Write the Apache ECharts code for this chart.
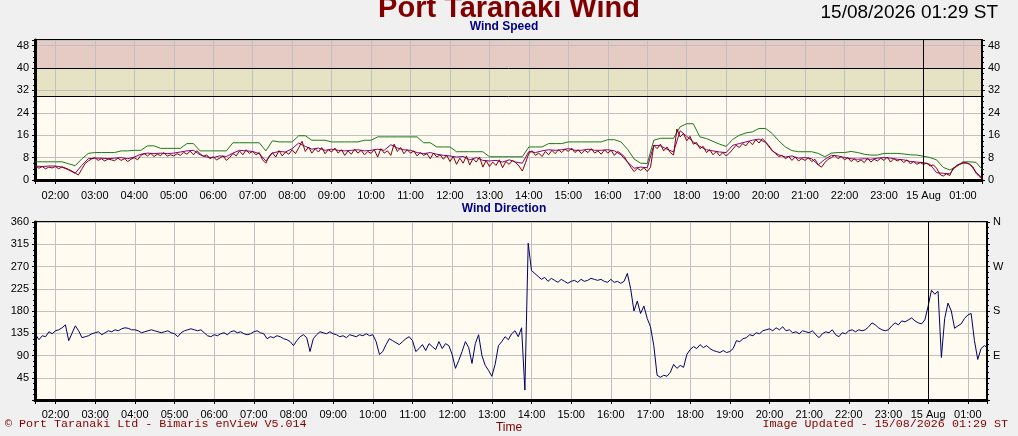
<!DOCTYPE html>
<html>
<head>
<meta charset="utf-8">
<script src="https://cdn.jsdelivr.net/npm/echarts@6/dist/echarts.min.js"></script>
<style>
  html, body { margin: 0; padding: 0; background: #f0f0f0; }
  #chart { width: 1018px; height: 436px; }
</style>
</head>
<body>
<div id="chart"></div>
<script>
// time range of the plot (local time)
var startTime = new Date(2026, 7, 14, 1, 29).getTime();
var endTime = new Date(2026, 7, 15, 1, 29).getTime();
var midnight = new Date(2026, 7, 15, 0, 0).getTime();
var firstSample = new Date(2026, 7, 14, 1, 30).getTime();

// wind speed, 5 minute samples from 01:30 (knots)
var speedMaroon = [
  5.0,4.2,4.8,4.0,4.6,4.3,
  4.8,4.0,4.7,4.3,3.8,3.2,2.5,1.8,3.8,5.8,6.8,7.5,
  8.0,7.0,7.6,6.8,7.5,7.2,6.9,7.8,7.0,7.6,6.6,7.4,
  8.0,7.2,8.8,9.4,8.6,9.5,8.4,9.2,8.7,9.8,8.5,9.0,
  8.6,9.4,8.8,9.9,9.2,10.3,9.0,10.5,9.4,8.4,9.0,7.6,
  8.3,7.2,7.8,8.6,7.0,8.0,9.5,8.6,10.4,9.0,10.8,9.5,
  10.2,9.0,9.8,7.2,6.0,8.5,9.8,8.2,10.5,8.6,10.0,9.2,
  10.8,9.4,11.5,13.8,10.2,11.8,9.6,11.2,10.0,11.6,9.4,10.8,
  10.0,11.4,9.6,10.8,8.8,10.4,9.2,11.0,9.6,10.6,9.0,10.2,
  9.5,10.8,8.2,11.2,9.6,10.4,8.8,12.8,10.2,11.6,9.4,10.8,
  9.6,10.4,8.6,9.8,8.8,9.4,7.6,9.6,8.2,9.0,7.4,8.8,
  6.6,8.4,5.6,7.8,6.0,8.6,5.4,7.6,6.4,8.2,4.6,7.0,
  4.8,6.4,5.2,7.2,4.4,6.6,5.6,7.0,6.2,5.0,3.2,6.2,
  9.6,10.4,8.8,9.6,8.4,10.2,9.0,10.6,9.4,10.8,9.8,11.0,
  10.2,11.4,9.8,10.8,9.4,10.6,9.8,11.2,9.6,10.4,9.2,10.8,
  9.6,10.6,8.8,10.2,9.4,8.4,6.4,4.6,3.0,4.2,3.4,4.4,
  3.0,4.6,12.4,11.2,12.8,10.4,11.8,9.8,8.9,18.2,15.4,16.6,
  14.0,15.6,12.8,13.4,11.2,12.0,9.8,10.8,9.0,10.2,8.6,9.8,
  8.6,9.6,11.0,12.4,11.6,13.0,12.2,13.8,12.6,14.4,13.2,14.8,
  13.6,12.2,10.6,9.4,8.4,8.8,7.6,8.4,7.0,8.2,6.8,7.6,
  7.0,8.0,6.6,7.4,5.4,4.6,6.2,7.4,8.0,8.8,7.6,8.4,
  7.2,8.0,6.6,7.6,6.4,7.2,6.2,7.8,6.4,7.4,6.8,7.8,
  7.0,8.2,6.4,7.6,6.8,7.4,6.2,7.2,5.8,6.6,5.6,6.2,
  5.6,6.0,5.0,5.4,4.2,2.0,1.4,2.2,1.6,4.2,5.0,5.6,
  6.0,6.2,5.6,4.8,2.4,1.2,0.4
];

// wind speed average, 10 minute samples from 01:30
var speedPurple = [
  5.0,4.8,5.0,
  5.0,4.6,3.6,2.4,5.2,7.6,
  7.8,7.8,7.6,7.8,8.0,7.6,
  8.2,9.2,9.6,9.4,9.6,9.4,
  9.6,10.0,10.4,10.6,9.0,8.2,
  8.0,8.6,8.4,9.6,10.6,10.4,
  10.2,9.4,6.8,9.6,10.2,10.0,
  11.2,13.2,12.0,11.0,11.4,10.6,
  11.0,10.6,10.4,10.6,10.8,10.4,
  10.6,11.0,10.6,12.6,11.4,10.8,
  10.6,9.8,9.4,9.8,9.2,8.8,
  8.6,8.2,8.4,7.2,8.0,7.0,
  6.8,7.0,6.4,7.2,6.4,6.0,
  10.2,9.8,10.4,10.8,10.6,10.8,
  11.2,10.6,10.6,11.0,10.6,10.6,
  10.8,10.4,9.0,6.4,4.2,4.6,
  4.4,12.4,12.2,11.0,10.0,17.6,
  15.6,13.6,12.0,10.8,10.4,10.0,
  9.8,12.4,13.0,13.6,14.2,14.6,
  13.4,10.4,9.0,8.2,8.6,7.8,
  8.0,7.6,5.4,7.4,8.8,8.6,
  8.0,7.6,7.4,7.6,7.4,7.8,
  8.0,7.8,7.4,7.2,6.6,6.4,
  6.2,5.6,2.6,2.4,2.2,5.2,
  6.2,5.8,2.8,0.6
];

// gust, 10 minute samples from 01:30
var gustGreen = [
  6.5,6.5,6.5,
  6.5,6.5,5.8,5.1,7.5,9.5,
  9.8,9.8,9.8,9.8,10.4,10.4,
  10.6,10.6,12.2,12.2,11.3,11.3,
  11.3,11.3,13.0,13.0,10.4,10.4,
  10.4,10.4,10.4,13.3,13.3,13.3,
  13.3,13.3,10.4,14.0,13.6,13.6,
  13.6,15.8,15.8,14.2,14.2,14.2,
  13.6,13.6,13.6,13.6,13.6,14.2,
  14.2,15.4,15.4,15.4,15.4,15.4,
  15.4,15.4,13.3,13.3,11.8,11.8,
  11.8,10.1,10.1,10.1,10.1,10.1,
  8.3,8.3,8.3,8.3,8.3,8.3,
  11.8,11.8,11.8,13.0,13.0,13.0,
  13.6,13.6,13.6,13.6,13.6,13.6,
  14.4,14.4,13.6,11.0,7.5,6.0,
  5.9,14.2,14.9,14.9,14.9,19.0,
  20.1,20.1,15.4,14.8,13.8,12.8,
  12.0,14.5,16.0,16.8,17.2,18.4,
  18.4,16.6,14.0,11.8,10.5,10.1,
  10.1,10.1,9.5,8.3,9.6,9.8,
  9.8,10.2,9.8,9.2,8.9,8.9,
  9.5,9.5,9.5,9.3,9.0,8.9,
  8.5,8.0,7.2,4.5,3.6,4.7,
  6.5,6.5,6.3,3.6
];

// wind direction, 5 minute samples from 01:30 (degrees)
var direction = [
  132,122,130,128,138,134,
  140,142,146,152,120,135,150,140,126,128,130,134,
  136,138,132,136,140,138,142,140,144,146,145,142,
  142,140,136,138,140,142,140,138,136,138,140,136,
  134,128,136,140,142,144,142,140,142,136,130,128,
  132,130,134,136,132,138,140,136,138,134,132,134,
  138,140,136,134,124,128,126,130,128,124,122,118,
  110,120,128,132,126,98,124,132,138,136,134,138,
  134,132,128,130,126,132,130,128,132,130,134,130,
  132,118,92,98,112,124,120,116,112,118,124,128,
  120,98,104,112,100,114,108,102,118,104,114,110,
  92,64,80,98,118,106,74,114,132,90,70,60,
  48,72,110,118,128,122,134,140,128,146,20,317,
  262,256,250,244,248,240,246,242,238,244,240,236,
  240,242,238,244,240,242,246,244,242,244,240,238,
  244,238,240,236,240,256,225,180,200,175,190,165,
  148,110,50,46,50,48,56,72,64,70,66,92,
  102,108,104,112,106,110,104,100,98,96,100,96,
  98,104,120,118,124,126,132,130,136,134,140,142,
  144,140,146,142,148,140,142,136,138,134,140,138,
  136,140,132,126,134,138,136,142,132,128,136,134,
  140,142,138,142,140,142,148,156,152,146,142,140,
  142,150,156,152,160,158,162,166,160,156,154,162,
  190,222,214,220,86,165,196,180,145,150,154,165,
  172,175,120,82,104,110,106
];

var speedTicks = [0, 8, 16, 24, 32, 40, 48];
var compassLabels = { 90: 'E', 180: 'S', 270: 'W', 360: 'N' };
var cautionBand = [30, 40];
var dangerBand = [40, 50];

function toSeries(values, stepMinutes) {
  return values.map(function (v, i) {
    return [firstSample + i * stepMinutes * 60000, v];
  });
}

function hourLabel(val) {
  var d = new Date(val);
  if (d.getHours() === 0 && d.getMinutes() === 0) {
    return d.getDate() + ' Aug';
  }
  var h = d.getHours();
  return (h < 10 ? '0' + h : h) + ':00';
}

var labelFont = { color: '#000', fontSize: 11, fontFamily: 'Arial, Liberation Sans' };

function timeAxis(gridIndex, margin) {
  return {
    type: 'time',
    gridIndex: gridIndex,
    min: startTime,
    max: endTime,
    minInterval: 3600000,
    maxInterval: 3600000,
    z: 1.5,
    axisLine: { show: true, lineStyle: { color: '#000', width: 3 } },
    axisTick: { show: true, length: 4, lineStyle: { color: '#000' } },
    minorTick: { show: true, splitNumber: 6, length: 2, lineStyle: { color: '#000' } },
    splitLine: { show: true, lineStyle: { color: '#c0c0c0', width: 1 } },
    axisLabel: Object.assign({ formatter: hourLabel, margin: margin, hideOverlap: false }, labelFont)
  };
}

function valueAxis(gridIndex, max, interval, position, formatter, thick) {
  return {
    type: 'value',
    gridIndex: gridIndex,
    position: position,
    min: 0,
    max: max,
    interval: interval,
    z: 1.5,
    axisLine: { show: true, lineStyle: { color: '#000', width: thick ? 3 : 2 } },
    axisTick: { show: true, length: 3, lineStyle: { color: '#000' } },
    minorTick: { show: true, splitNumber: 4, length: 2, lineStyle: { color: '#000' } },
    splitLine: { show: position === 'left', lineStyle: { color: '#c0c0c0', width: 1 } },
    axisLabel: Object.assign({ formatter: formatter, margin: 6, showMaxLabel: max % interval === 0 }, labelFont)
  };
}

var chart = echarts.init(document.getElementById('chart'), null, { renderer: 'canvas' });

var option = {
  animation: false,
  backgroundColor: '#f0f0f0',
  title: [
    { text: 'Port Taranaki Wind', left: 509, top: -6, textAlign: 'center', padding: 0,
      textStyle: { color: '#800000', fontSize: 29, fontWeight: 'bold', fontFamily: 'Arial, Liberation Sans' } },
    { text: '15/08/2026 01:29 ST', right: 20, top: 3, padding: 0,
      textStyle: { color: '#000', fontSize: 19, fontWeight: 'normal', fontFamily: 'Arial, Liberation Sans' } },
    { text: 'Wind Speed', left: 504, top: 21, textAlign: 'center', padding: 0,
      textStyle: { color: '#000080', fontSize: 12, fontWeight: 'bold', fontFamily: 'Arial, Liberation Sans' } },
    { text: 'Wind Direction', left: 504, top: 203, textAlign: 'center', padding: 0,
      textStyle: { color: '#000080', fontSize: 12, fontWeight: 'bold', fontFamily: 'Arial, Liberation Sans' } },
    { text: 'Time', left: 509, top: 422, textAlign: 'center', padding: 0,
      textStyle: { color: '#800000', fontSize: 12, fontWeight: 'normal', fontFamily: 'Arial, Liberation Sans' } },
    { text: '\u00a9 Port Taranaki Ltd - Bimaris enView V5.014', left: 5, top: 418, padding: 0,
      textStyle: { color: '#800000', fontSize: 11.7, fontWeight: 'normal', fontFamily: 'Liberation Mono, Courier New, monospace' } },
    { text: 'Image Updated - 15/08/2026 01:29 ST', right: 10, top: 418, padding: 0,
      textStyle: { color: '#800000', fontSize: 11.7, fontWeight: 'normal', fontFamily: 'Liberation Mono, Courier New, monospace' } }
  ],
  grid: [
    { left: 35, right: 36, top: 40, height: 140, show: true, backgroundColor: '#fffbf0', borderColor: '#000', borderWidth: 2 },
    { left: 35, right: 31, top: 222, height: 178, show: true, backgroundColor: '#fffbf0', borderColor: '#000', borderWidth: 2 }
  ],
  xAxis: [timeAxis(0, 10), timeAxis(1, 9)],
  yAxis: [
    valueAxis(0, 50, 8, 'left', function (v) { return speedTicks.indexOf(v) >= 0 ? v : ''; }, true),
    valueAxis(0, 50, 8, 'right', function (v) { return speedTicks.indexOf(v) >= 0 ? v : ''; }, false),
    valueAxis(1, 360, 45, 'left', function (v) { return v === 0 ? '' : v; }, true),
    valueAxis(1, 360, 45, 'right', function (v) { return compassLabels[v] || ''; }, false)
  ],
  series: [
    {
      name: 'bands', type: 'line', xAxisIndex: 0, yAxisIndex: 0, data: [], z: 1,
      markArea: {
        silent: true, z: 1,
        data: [
          [{ yAxis: cautionBand[0], itemStyle: { color: '#e6e2c4' } }, { yAxis: cautionBand[1] }],
          [{ yAxis: dangerBand[0], itemStyle: { color: '#e6cac4' } }, { yAxis: dangerBand[1] }]
        ]
      },
      markLine: {
        silent: true, symbol: 'none', label: { show: false },
        lineStyle: { color: '#000', width: 1, type: 'solid' },
        data: [{ yAxis: cautionBand[0] }, { yAxis: cautionBand[1] }, { xAxis: midnight }]
      }
    },
    {
      name: 'Gust', type: 'line', xAxisIndex: 0, yAxisIndex: 0, showSymbol: false, z: 2,
      lineStyle: { color: '#1a7a1a', width: 1 }, data: toSeries(gustGreen, 10)
    },
    {
      name: 'Average', type: 'line', xAxisIndex: 0, yAxisIndex: 0, showSymbol: false, z: 2,
      lineStyle: { color: '#800080', width: 1 }, data: toSeries(speedPurple, 10)
    },
    {
      name: 'Speed', type: 'line', xAxisIndex: 0, yAxisIndex: 0, showSymbol: false, z: 3,
      lineStyle: { color: '#800000', width: 1 }, data: toSeries(speedMaroon, 5)
    },
    {
      name: 'Direction', type: 'line', xAxisIndex: 1, yAxisIndex: 2, showSymbol: false, z: 3,
      lineStyle: { color: '#000066', width: 1 }, data: toSeries(direction, 5),
      markLine: {
        silent: true, symbol: 'none', label: { show: false },
        lineStyle: { color: '#000', width: 1, type: 'solid' },
        data: [{ xAxis: midnight }]
      }
    }
  ]
};

chart.setOption(option);
</script>
</body>
</html>
